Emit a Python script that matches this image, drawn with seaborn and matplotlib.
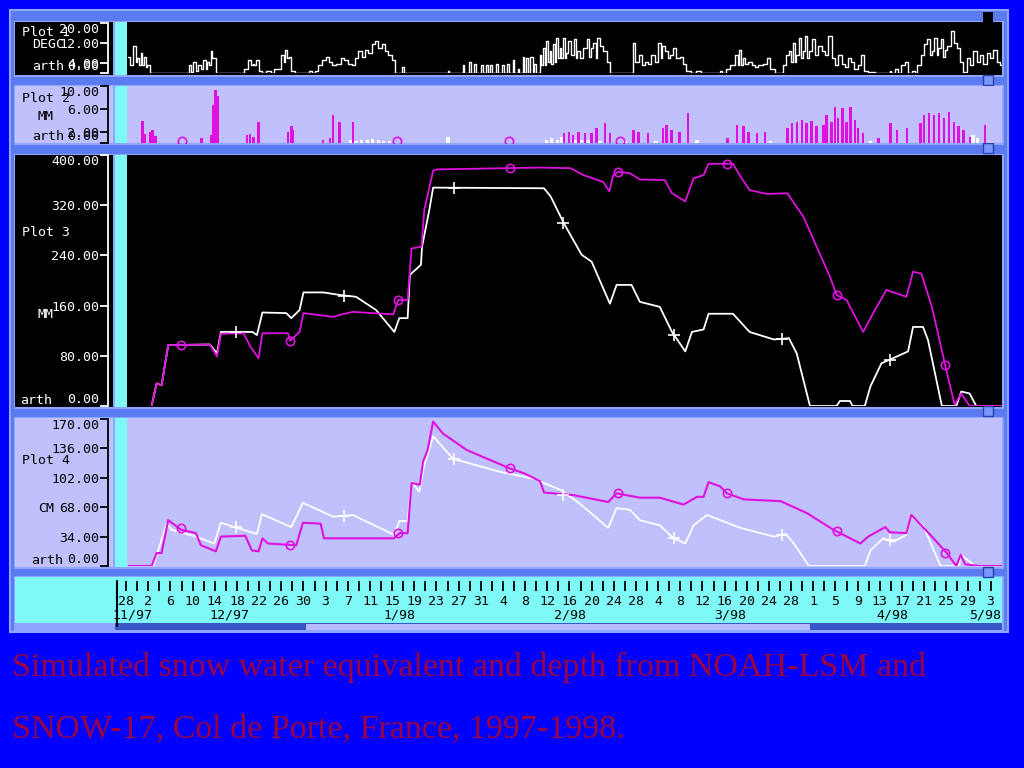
import matplotlib
matplotlib.use("Agg")
import matplotlib.pyplot as plt
from matplotlib.patches import Rectangle
import seaborn as sns

# all x values are days since 28 Nov 1997 (first tick "28" of the time axis)

# Plot 1 - air temperature, DEGC (white)
temp_day = [0.4, 1.0, 1.6, 1.9, 2.2, 2.5, 2.8, 3.1, 3.4, 3.7, 4.0, 4.6,
            11.3, 11.5, 11.9, 12.4, 12.8, 13.3, 13.7, 14.2, 14.5, 14.8, 15.1, 15.4, 15.7, 16.0, 16.5,
            21.2, 21.5, 22.4, 22.7, 23.0, 23.3, 23.6, 24.2, 24.7, 25.9, 26.4, 27.1, 27.7, 28.3, 28.6,
            28.9, 29.2, 29.5, 30.1, 30.7,
            32.8, 33.3, 33.8, 34.2, 35.1, 35.7, 36.3, 36.9, 37.5, 38.4, 39.0, 39.5, 40.4, 41.0, 41.6,
            42.2, 42.8, 43.4, 44.0, 44.6, 45.2, 45.8, 46.4, 47.0, 47.6, 48.2, 48.8,
            49.7, 50.0, 50.3, 57.9, 58.2, 58.5, 60.6, 60.9, 61.2, 61.8, 62.1, 62.4, 62.7, 63.0, 63.3,
            63.9, 64.2, 64.5, 64.8, 65.1, 65.4, 65.6, 65.9, 66.2, 66.6, 66.9, 67.2, 67.7, 68.0, 68.3,
            68.6, 68.9, 69.2, 69.6, 69.9, 70.2, 70.5, 70.8, 71.1, 71.4, 71.7, 72.0, 72.3, 72.6,
            73.2, 73.5, 73.8, 74.1,
            74.5, 74.8, 75.1, 75.4, 75.7, 76.0, 76.3, 76.6, 76.9, 77.2, 77.5, 77.8, 78.1, 78.4, 78.7,
            79.0, 79.3, 79.6, 79.9, 80.5, 81.0, 81.3, 81.6, 82.2, 82.8, 83.4, 83.7, 84.0, 84.6, 84.9,
            85.2, 85.8, 86.4, 87.0, 87.6,
            91.3, 91.6, 92.2, 92.8, 93.3, 93.9, 94.5, 95.1, 95.7, 96.3, 96.6, 96.9, 97.5, 97.9, 98.4,
            99.0, 99.6, 100.2, 100.8, 101.4, 102.3, 103.5, 103.9,
            107.1, 107.3, 107.9, 108.5, 109.6, 110.2, 110.5, 110.8, 111.1, 111.4, 112.0, 112.6, 113.2,
            113.8, 114.4, 115.3, 115.9, 116.5, 117.7,
            118.4, 118.7, 119.3, 119.9, 120.2, 120.5, 120.8, 121.1, 121.7, 122.0, 122.2, 122.8, 123.1,
            123.4, 124.0, 124.6, 125.2, 125.8, 126.4, 127.0, 127.6, 128.2, 128.8, 129.4, 130.0, 130.5,
            131.1, 131.7, 132.3, 132.9, 133.5, 134.4, 135.9,
            137.7, 137.9, 138.3, 139.1, 139.5, 140.3, 140.9, 141.4, 142.1, 142.6, 143.0,
            143.7, 144.3, 144.9, 145.2, 145.5, 146.1, 146.4, 146.7, 147.3, 147.6, 147.9, 148.5, 149.1,
            149.6, 150.2, 150.8, 151.4, 152.0, 152.6, 153.2, 153.8, 154.4, 155.0, 155.6, 156.2, 156.8,
            157.4, 158.0]
temp_degc = [6.6, 3.1, 10.8, 4.5, 5.9, 3.1, 8.0, 3.1, 6.6, 2.4, 3.1, 0,
             0, 3.1, 0.3, 4.5, 1.0, 3.1, 1.7, 5.2, 1.7, 4.5, 3.1, 8.7, 5.9, 5.9, 0,
             0, 1.7, 5.2, 3.1, 3.8, 3.1, 5.2, 1.0, 0, 1.0, 0, 1.7, 1.7, 7.3, 4.5,
             9.4, 5.9, 6.6, 1.0, 0,
             0, 1.0, 0, 1.0, 3.1, 5.2, 6.6, 4.5, 3.1, 3.8, 5.9, 5.2, 3.8, 3.1, 5.9,
             8.7, 6.6, 9.4, 8.0, 11.5, 12.8, 10.1, 11.5, 8.7, 7.3, 5.2, 0,
             0, 2.4, 0, 0, 1.0, 0, 0, 3.1, 0, 0, 4.5, 0, 0, 3.8, 0,
             0, 3.1, 0, 0, 3.1, 0, 0, 3.1, 0, 0, 3.8, 0, 0, 3.1, 0,
             0, 3.8, 0, 0, 5.2, 0, 0, 1.7, 0, 0, 6.6, 0, 5.9, 0,
             6.6, 0, 3.8, 0,
             0, 7.3, 3.1, 10.1, 3.1, 12.8, 4.5, 8.7, 3.8, 11.5, 4.5, 14.2, 5.9, 10.1, 5.9,
             14.2, 5.9, 8.0, 12.8, 7.3, 13.5, 5.9, 8.7, 5.9, 10.1, 13.5, 6.6, 10.1, 12.2, 5.9,
             14.2, 10.8, 8.7, 4.5, 0,
             0, 12.2, 4.5, 7.3, 3.1, 4.5, 3.8, 7.3, 4.5, 12.2, 5.9, 10.8, 8.7, 5.9, 7.3,
             10.1, 5.9, 6.6, 3.8, 1.0, 0, 1.0, 0,
             0, 1.0, 0, 1.7, 3.1, 7.3, 3.1, 9.4, 3.1, 5.9, 3.8, 4.5, 3.1,
             2.4, 3.1, 3.8, 5.9, 1.7, 0,
             0, 3.1, 7.3, 8.7, 4.5, 12.2, 4.5, 7.3, 14.2, 5.9, 8.7, 15.0, 5.9,
             8.7, 13.5, 7.3, 10.8, 8.7, 7.3, 15.0, 5.9, 3.1, 7.3, 3.8, 2.4, 5.9,
             4.5, 1.7, 3.1, 7.3, 1.0, 0.3, 0,
             0, 1.0, 0, 1.7, 0, 3.1, 4.5, 0, 1.0, 0, 3.1,
             7.3, 11.5, 13.5, 7.3, 8.7, 14.2, 7.3, 10.1, 13.5, 6.6, 9.4, 10.8, 17.0,
             12.2, 10.1, 4.5, 0.3, 5.9, 3.1, 8.7, 4.5, 7.3, 3.8, 8.0, 5.9, 9.4,
             4.5, 3.1]

# Plot 2 - precipitation, MM (magenta bars, white small amounts)
prcp_day = [3.0, 3.4, 4.3, 4.8, 5.3, 13.6, 15.3, 15.7, 16.1, 16.5, 21.8, 22.4, 23.0, 23.9,
            29.2, 29.8, 30.1, 35.5, 36.8, 37.3, 38.5, 40.9, 79.0, 79.9, 80.6, 81.6, 82.8, 84.0,
            84.9, 86.4, 87.3, 91.6, 92.5, 94.2, 96.9, 97.5, 98.4, 99.9, 101.4, 108.5, 110.2,
            111.4, 112.3, 113.8, 115.3, 119.3, 120.2, 121.1, 122.0, 122.8, 123.7, 124.6, 125.8,
            126.4, 127.3, 127.9, 128.5, 129.3, 130.0, 130.7, 131.5, 132.1, 133.0, 135.8, 137.9,
            139.1, 140.9, 143.3, 144.0, 144.9, 145.8, 146.7, 147.6, 148.5, 149.4, 150.2, 151.1,
            152.3, 155.0]
prcp_mm = [3.9, 1.5, 2.0, 2.3, 1.2, 0.8, 1.4, 6.7, 9.3, 8.2, 1.4, 1.5, 1.1, 3.7,
           2.0, 2.9, 2.3, 0.5, 0.8, 4.9, 3.7, 3.7, 1.7, 2.0, 1.4, 2.0, 1.7, 1.7,
           2.6, 3.5, 1.7, 2.3, 2.0, 1.7, 2.6, 3.2, 2.3, 2.0, 5.2, 0.8, 3.2,
           2.9, 2.0, 1.7, 2.0, 2.6, 3.5, 3.7, 4.0, 3.5, 3.9, 2.9, 3.2,
           4.9, 3.7, 6.4, 4.3, 6.1, 3.7, 6.4, 4.0, 2.6, 1.7, 0.8, 3.5,
           2.3, 2.6, 3.5, 4.9, 5.2, 4.9, 5.2, 4.3, 5.5, 3.7, 2.9, 2.3,
           1.1, 3.2]
white_prcp_day = [40.5, 41.5, 42.5, 43.5, 44.5, 45.5, 46.5, 47.5, 58.1, 75.8, 76.8, 77.8, 78.6,
                  81.0, 82.2, 83.4, 85.5, 90.0, 95.6, 103.0, 116.3, 134.3, 152.8, 153.6]
white_prcp_mm = [0.5, 0.4, 0.6, 0.5, 0.7, 0.5, 0.4, 0.3, 1.1, 0.5, 0.8, 0.6, 1.0,
                 0.6, 0.5, 0.6, 0.4, 0.3, 0.4, 0.5, 0.4, 0.3, 1.4, 0.8]
prcp_circle_day = [10.0, 48.8, 69.0, 89.1]
prcp_circle_mm = [0.4, 0.4, 0.4, 0.4]

# Plot 3 - snow water equivalent, MM
noah_swe_day = [4.6, 5.5, 6.4, 7.6, 15.1, 16.4, 17.1, 21.2, 22.4, 23.9, 24.6, 29.2, 29.6, 31.3,
                32.0, 37.4, 38.5, 40.9, 48.2, 49.1, 50.8, 51.5, 53.3, 53.8, 55.4, 56.0, 74.7,
                80.2, 82.5, 86.1, 87.2, 87.9, 88.8, 90.9, 92.7, 97.2, 98.5, 100.9, 102.4, 104.2,
                105.1, 109.5, 110.7, 112.5, 115.6, 119.3, 122.2, 124.6, 127.0, 128.2, 130.0,
                133.0, 134.8, 137.2, 140.8, 142.0, 143.5, 145.4, 147.8, 149.5, 150.7, 152.2, 158.0]
noah_swe = [0, 36, 33, 97, 98, 79, 115, 116, 95, 76, 116, 116, 104, 118,
            148, 142, 145, 150, 146, 169, 169, 251, 254, 312, 375, 377, 380,
            379, 368, 357, 342, 368, 373, 371, 361, 360, 339, 326, 363, 368,
            386, 386, 368, 344, 338, 339, 302, 254, 206, 177, 169,
            118, 148, 185, 174, 214, 211, 158, 65, 2, 20, 0, 0]
snow17_swe_day = [4.6, 5.5, 6.4, 7.6, 15.1, 16.4, 17.1, 22.8, 23.6, 24.6, 28.9, 29.8, 31.3, 32.0,
                  35.6, 38.5, 41.5, 45.1, 48.4, 49.3, 50.8, 51.2, 53.2, 53.4, 54.7, 55.4, 75.4,
                  76.6, 79.0, 82.2, 84.0, 87.3, 88.5, 91.2, 92.7, 96.3, 98.5, 100.9, 102.1, 104.2,
                  105.1, 109.5, 112.5, 116.9, 119.6, 121.0, 123.4, 128.2, 128.8, 130.6, 131.1,
                  133.3, 134.3, 136.3, 139.6, 141.1, 142.0, 143.8, 144.7, 147.2, 149.8, 150.7,
                  152.2, 153.4, 158.0]
snow17_swe = [0, 36, 33, 97, 98, 84, 118, 118, 113, 149, 148, 140, 153, 181,
              181, 177, 174, 153, 118, 140, 140, 209, 225, 254, 312, 348, 347,
              334, 291, 241, 230, 163, 193, 193, 166, 158, 118, 87, 118, 122,
              147, 147, 118, 106, 108, 84, 0, 0, 8, 8, 0,
              0, 31, 68, 81, 87, 126, 126, 105, 0, 0, 23,
              20, 0, 0]

# Plot 4 - snow depth, CM
noah_depth_day = [0.3, 4.6, 5.5, 6.4, 7.6, 9.9, 12.6, 13.5, 16.2, 17.1, 21.5, 22.7, 23.9, 24.6,
                  25.6, 30.7, 31.9, 35.1, 35.7, 48.3, 49.4, 50.8, 51.5, 53.0, 53.6, 54.4, 55.4,
                  57.2, 61.5, 69.2, 71.9, 74.7, 75.4, 80.7, 87.0, 88.5, 92.7, 96.3, 100.6, 103.0,
                  104.2, 105.1, 107.2, 108.4, 111.5, 118.1, 122.9, 127.6, 132.5, 133.9, 137.0,
                  137.8, 140.8, 141.7, 142.9, 145.4, 148.1, 149.8, 150.6, 151.4, 154.0, 158.0]
noah_depth = [0, 0, 15, 15, 53, 42, 38, 24, 17, 34, 35, 18, 17, 32,
              26, 24, 50, 49, 32, 32, 38, 38, 96, 94, 121, 134, 167,
              153, 134, 113, 107, 98, 85, 82, 74, 84, 79, 79, 71, 80,
              80, 97, 92, 84, 77, 75, 61, 42, 26, 34, 45,
              39, 38, 59, 51, 34, 15, 0, 13, 2, 0, 0]
snow17_depth_day = [0.3, 4.9, 5.8, 7.3, 8.2, 12.6, 15.9, 17.1, 23.6, 24.5, 29.8, 31.9, 37.4, 40.9,
                    48.4, 49.3, 50.8, 51.5, 52.9, 53.8, 54.4, 55.4, 59.0, 67.4, 73.5, 78.4, 81.9,
                    87.0, 88.5, 90.9, 92.7, 96.3, 98.8, 100.9, 102.4, 104.8, 110.9, 116.9, 119.0,
                    120.5, 123.1, 123.4, 133.3, 134.3, 136.6, 138.4, 140.8, 141.7, 143.8, 146.9,
                    147.2, 150.3, 150.6, 152.8, 153.2, 158.0]
snow17_depth = [0, 0, 18, 49, 42, 34, 26, 50, 37, 60, 45, 73, 57, 59,
                36, 52, 52, 97, 86, 117, 128, 150, 124, 109, 101, 88, 72,
                44, 67, 65, 53, 47, 32, 26, 47, 59, 44, 34, 37,
                26, 1, 0, 0, 18, 32, 28, 36, 57, 47, 1,
                0, 0, 13, 2, 0, 0]

# symbol markers on the curves
circle_day = [9.9, 29.6, 49.1, 69.2, 88.8, 108.4, 128.2, 147.8]
plus_day = [19.9, 39.4, 59.1, 78.9, 98.8, 118.4, 137.8]
swe_circle = [98, 104, 169, 379, 373, 386, 177, 65]
swe_plus = [118, 176, 347, 291, 113, 107, 74]
depth_circle = [44, 24, 38, 113, 84, 85, 40, 15]
depth_plus = [45, 58, 124, 82, 32, 36, 30]

# time axis
tick_day = list(range(0, 157, 4))
tick_labels = ["28", "2", "6", "10", "14", "18", "22", "26", "30", "3", "7", "11", "15", "19",
               "23", "27", "31", "4", "8", "12", "16", "20", "24", "28", "4", "8", "12", "16",
               "20", "24", "28", "1", "5", "9", "13", "17", "21", "25", "29", "3"]
minor_day = list(range(2, 156, 4))
month_labels = ["11/97", "12/97", "1/98", "2/98", "3/98", "4/98", "5/98"]
month_day = [1.1, 18.7, 49.4, 80.1, 109.0, 138.2, 155.0]

caption = ["Simulated snow water equivalent and depth from NOAH-LSM and",
           "SNOW-17, Col de Porte, France, 1997-1998."]

W, H = 1024, 768
BLUE = "#0000ff"
FRAME = "#5a7cf0"
EDGE = "#8ea6ff"
LAV = "#c0c0fc"
CYAN = "#7ff8f8"
MAG = "#e010e0"
X_LO, X_HI = 0.34, 158.05

sns.set_style("ticks")
plt.rcParams["font.family"] = ["DejaVu Sans Mono"]

fig = plt.figure(figsize=(W / 100, H / 100), dpi=100, facecolor=BLUE)


def px_axes(x0, y0, x1, y1):
    return fig.add_axes([x0 / W, 1 - y1 / H, (x1 - x0) / W, (y1 - y0) / H])


bg = px_axes(0, 0, W, H)
bg.set_xlim(0, W)
bg.set_ylim(H, 0)
bg.axis("off")


def box(x0, y0, x1, y1, fc, ec="none", lw=0):
    bg.add_patch(Rectangle((x0, y0), x1 - x0, y1 - y0, facecolor=fc, edgecolor=ec, linewidth=lw))


# window frame and panels
box(10, 10, 1008, 632, FRAME, EDGE, 1.5)
panels = [(22, 75, "black"), (86, 143, LAV), (155, 407, "black"), (418, 567, LAV)]
for y0, y1, c in panels:
    box(14, y0 - 1.5, 1003.5, y1 + 1.5, EDGE)
    box(15, y0, 113, y1, c)
    box(115, y0, 127, y1, CYAN)
    box(127, y0, 1002, y1, c)
box(14, 575.5, 1003.5, 631, EDGE)
box(15, 577, 1002, 623, CYAN)
box(115, 623, 1002, 630, "#3a56c8")
box(306, 624, 810, 630, "#b4bcff")
box(983, 12, 993, 22, "black")
for yh in (75, 143, 406, 567):
    box(983, yh, 993, yh + 10, "#7a96ff", "#2a3ea8", 1)

# panel names
name_texts = [("Plot 1", 22, 33, "white"), ("DEGC", 32, 45, "white"), ("arth", 32, 67, "white"),
              ("Plot 2", 22, 99, "black"), ("MM", 37, 117, "black"), ("arth", 32, 137, "black"),
              ("Plot 3", 22, 232, "white"), ("MM", 38, 315, "white"), ("arth", 20, 401, "white"),
              ("Plot 4", 22, 461, "black"), ("CM", 38, 509, "black"), ("arth", 31, 561, "black")]
for s, x, y, c in name_texts:
    bg.text(x, y, s, color=c, fontsize=9.5, ha="left", va="center")

for i, line in enumerate(caption):
    bg.text(12, 667 + 62 * i, line, family=["Liberation Serif", "DejaVu Serif"],
            fontsize=24.5, color="#9c0040", ha="left", va="center")


def finish(ax, ymax, ticks, fg):
    ax.set_xlim(X_LO, X_HI)
    ax.set_ylim(0, ymax)
    ax.set_xticks([])
    ax.set_xlabel("")
    ax.set_ylabel("")
    for s in ("top", "right", "bottom"):
        ax.spines[s].set_visible(False)
    ax.spines["left"].set_position(("outward", 14.4))
    ax.spines["left"].set_color(fg)
    ax.spines["left"].set_linewidth(1.3)
    ax.set_yticks(ticks, [f"{t:.2f}" for t in ticks])
    ax.tick_params(axis="y", direction="out", length=5.8, width=1.3, pad=0.5,
                   colors=fg, labelsize=9.5)
    labs = ax.get_yticklabels()
    labs[0].set_va("bottom")
    labs[-1].set_va("top")


# Plot 1
ax1 = px_axes(128, 23, 1002, 73)
ax1.set_facecolor("black")
sns.lineplot(x=temp_day, y=temp_degc, color="white", lw=1, drawstyle="steps-mid",
             estimator=None, ax=ax1)
finish(ax1, 20, [0, 4, 12, 20], "white")

# Plot 2
ax2 = px_axes(128, 86, 1002, 143)
ax2.set_facecolor(LAV)
ax2.bar(white_prcp_day, white_prcp_mm, width=0.6, color="white", linewidth=0)
ax2.bar(prcp_day, prcp_mm, width=0.45, color=MAG, linewidth=0)
ax2.plot(prcp_circle_day, prcp_circle_mm, ls="none", marker="o", ms=6, mfc="none",
         mec=MAG, mew=1.2)
finish(ax2, 10, [0, 2, 6, 10], "black")

# Plot 3
ax3 = px_axes(128, 155, 1002, 406)
ax3.set_facecolor("black")
sns.lineplot(x=snow17_swe_day, y=snow17_swe, color="white", lw=1.3, estimator=None, ax=ax3)
sns.lineplot(x=noah_swe_day, y=noah_swe, color=MAG, lw=1.3, estimator=None, ax=ax3)
ax3.plot(circle_day, swe_circle, ls="none", marker="o", ms=6, mfc="none", mec=MAG, mew=1.2)
ax3.plot(plus_day, swe_plus, ls="none", marker="+", ms=8, mec="white", mew=1.2)
finish(ax3, 400, [0, 80, 160, 240, 320, 400], "white")

# Plot 4
ax4 = px_axes(128, 419, 1002, 566)
ax4.set_facecolor(LAV)
sns.lineplot(x=snow17_depth_day, y=snow17_depth, color="white", lw=1.3, estimator=None, ax=ax4)
sns.lineplot(x=noah_depth_day, y=noah_depth, color=MAG, lw=1.5, estimator=None, ax=ax4)
ax4.plot(circle_day, depth_circle, ls="none", marker="o", ms=6, mfc="none", mec=MAG, mew=1.2)
ax4.plot(plus_day, depth_plus, ls="none", marker="+", ms=8, mec="white", mew=1.2)
finish(ax4, 170, [0, 34, 68, 102, 136, 170], "black")

# time axis
tax = px_axes(115, 581, 1002, 591)
tax.set_facecolor("none")
tax.set_xlim(-2.0, X_HI)
for s in tax.spines.values():
    s.set_visible(False)
tax.set_yticks([])
tax.set_xticks(tick_day, tick_labels)
tax.set_xticks(minor_day, minor=True)
tax.tick_params(axis="x", which="both", direction="in", length=7.2, width=1.3,
                color="black", pad=3, labelsize=9.5, labelcolor="black")
for lab, d in zip(month_labels, month_day):
    tax.text(d, -2.4, lab, transform=tax.get_xaxis_transform(), ha="center", va="center",
             fontsize=9.5, color="black")
tax.plot([-1.6, -1.6], [1.0, -3.5], transform=tax.get_xaxis_transform(), clip_on=False,
         color="black", lw=1.5)

fig.savefig("out.png", dpi=100, facecolor=BLUE)
